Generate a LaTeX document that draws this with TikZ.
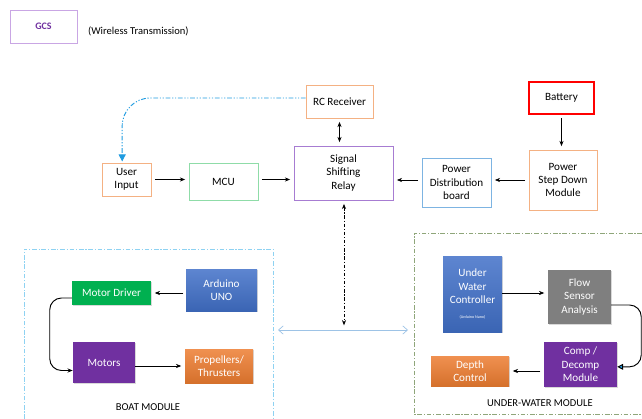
\documentclass[tikz,border=0pt]{standalone}
\usepackage{fontspec}
\setmainfont{Carlito}
\usetikzlibrary{calc, arrows.meta, shadows}
\usetikzlibrary{positioning}

\definecolor{gcsline}{HTML}{C9A6E4}
\definecolor{gcstext}{HTML}{7030A0}
\definecolor{softorange}{HTML}{F4B183}
\definecolor{softgreen}{HTML}{8FDCA8}
\definecolor{softpurple}{HTML}{A77CD2}
\definecolor{softblue}{HTML}{7DB4E2}
\definecolor{linkblue}{HTML}{1F9BE0}
\definecolor{arrowblue}{HTML}{9DC3E6}
\definecolor{boatframe}{HTML}{8ED2F2}
\definecolor{waterframe}{HTML}{8FA67A}
\definecolor{fillgreen}{HTML}{00B050}
\definecolor{fillblue}{HTML}{4170C8}
\definecolor{fillpurple}{HTML}{7030A0}
\definecolor{fillorange}{HTML}{ED7D31}
\definecolor{fillgray}{HTML}{7F7F7F}

\begin{document}
\begin{tikzpicture}[x=0.03cm, y=-0.03cm,
        >={Stealth[length=4.5pt, width=3.5pt]},
        outline/.style={rectangle, draw, line width=0.6pt, align=center, inner sep=1pt, font=\fontsize{9.5}{11.4}\selectfont},
        solid/.style={rectangle, align=center, inner sep=1pt, text=white, font=\fontsize{9.5}{11.4}\selectfont,
            drop shadow={opacity=0.3, shadow xshift=1pt, shadow yshift=-1pt}},
        link/.style={->, line width=0.5pt, shorten >=3pt, shorten <=3pt},
        frame/.style={line width=0.6pt, dash pattern=on 4pt off 1.5pt on 1pt off 1.5pt}
    ]

        \useasboundingbox (0,0) rectangle (642,419);

        % ground station
        \node[outline, draw=gcsline, text=gcstext, minimum width=2.01cm, minimum height=0.99cm, font=\fontsize{8.5}{10}\selectfont\bfseries] (gcs) at (43.5,26.5) {GCS};
        \node[anchor=west, font=\fontsize{9}{10}\selectfont] (wireless) at (84,31) {(Wireless Transmission)};

        % top row
        \node[outline, draw=softorange, minimum width=2.01cm, minimum height=0.99cm] (rc) at (339.5,101.5) {RC Receiver};
        \node[outline, draw=softpurple, minimum width=2.97cm, minimum height=1.62cm] (relay) at (343.5,173) {Signal\\Shifting\\Relay};
        \node[outline, draw=softorange, minimum width=1.47cm, minimum height=0.99cm] (user) at (126.5,179.5) {User\\Input};
        \node[outline, draw=softgreen, minimum width=2.07cm, minimum height=1.11cm] (mcu) at (223.5,181.5) {MCU};
        \node[outline, draw=red, line width=1.6pt, minimum width=1.95cm, minimum height=0.96cm] (battery) at (561.5,98) {Battery};
        \node[outline, draw=softorange, minimum width=2.04cm, minimum height=1.8cm] (stepdown) at (563,180) {Power\\Step Down\\Module};
        \node[outline, draw=softblue, minimum width=2.07cm, minimum height=1.47cm] (pdb) at (456.5,182.5) {Power\\Distribution\\board};

        % top row links
        \draw[link] (user.east) -- (user.east -| mcu.west);
        \draw[link] (mcu.east |- user.east) -- (user.east -| relay.west);
        \draw[link, <->] (rc.south) -- (rc.south |- relay.north);
        \draw[link] (battery.south) -- (battery.south |- stepdown.north);
        \draw[link] (stepdown.west) -- (stepdown.west -| pdb.east);
        \draw[link] (pdb.west |- stepdown.west) -- (stepdown.west -| relay.east);
        \draw[-{Triangle[length=6pt, width=6pt]}, linkblue, line width=0.8pt, rounded corners=24pt,
            dash pattern=on 4pt off 1.5pt on 1pt off 1.5pt on 1pt off 1.5pt, shorten >=1pt]
            (rc.west |- 0,98) -| ([xshift=-0.13cm]user.north);

        % module frames
        \draw[frame, boatframe] (24,419) -- (24,249) -- (273,249) -- (273,419);
        \draw[frame, waterframe] (642,233) -- (414,233) -- (414,414) -- (642,414);
        \node[font=\fontsize{9}{10}\selectfont] (boatlabel) at (148,407) {BOAT MODULE};
        \node[font=\fontsize{9}{10}\selectfont] (waterlabel) at (540,403) {UNDER-WATER MODULE};

        % link between modules
        \coordinate (boatin) at (278,330);
        \coordinate (waterin) at (408,330);
        \coordinate (hub) at (344,330);
        \draw[{Straight Barb[length=4pt, width=7pt]}-{Straight Barb[length=4pt, width=7pt]}, arrowblue, line width=0.6pt] (boatin) -- (waterin);
        \draw[<->, line width=0.6pt, dash pattern=on 3pt off 1.5pt on 1pt off 1.5pt, shorten <=3pt, shorten >=4pt] (relay.south -| hub) -- (hub);

        % boat module
        \node[solid, fill=fillgreen, minimum width=2.37cm, minimum height=0.72cm] (driver) at (111.5,293) {Motor Driver};
        \node[solid, top color=fillblue!85!white, bottom color=fillblue!90!black, minimum width=2.13cm, minimum height=1.26cm] (uno) at (221.5,290) {Arduino\\UNO};
        \node[solid, fill=fillpurple, minimum width=1.86cm, minimum height=1.23cm] (motors) at (104,362.5) {Motors};
        \node[solid, top color=fillorange!85!white, bottom color=fillorange!90!black, minimum width=2.04cm, minimum height=1.02cm] (props) at (219,366) {Propellers/\\Thrusters};

        \draw[link, shorten <=2pt] (uno.west |- driver.east) -- (driver.east);
        \draw[link, shorten <=0pt] (motors.east |- props.west) -- (props.west);
        \draw[->, line width=0.8pt, rounded corners=10pt, shorten >=0pt] ([yshift=-0.15cm]driver.west) -- ++(-22,0) |- ([yshift=-0.24cm]motors.west);

        % under-water module
        \node[solid, top color=fillblue!85!white, bottom color=fillblue!90!black, minimum width=1.77cm, minimum height=2.28cm] (uwc) at (472.5,294) {Under\\Water\\Controller\\[1pt]{\fontsize{3.5}{4}\selectfont(Arduino Nano)}};
        \node[solid, fill=fillgray, minimum width=1.89cm, minimum height=1.62cm] (flow) at (579.5,297) {Flow\\Sensor\\Analysis};
        \node[solid, fill=fillpurple, minimum width=2.19cm, minimum height=1.35cm] (comp) at (580.5,364.5) {Comp /\\Decomp\\Module};
        \node[solid, top color=fillorange!85!white, bottom color=fillorange!90!black, minimum width=2.34cm, minimum height=0.9cm] (depth) at (470,371) {Depth\\Control};

        \draw[link, shorten <=0pt] (uwc.east |- 0,293) -- (flow.west |- 0,293);
        \draw[link, shorten <=3pt] (comp.west |- depth.east) -- (depth.east);
        \draw[-{Triangle[length=5pt, width=5pt, fill=linkblue]}, line width=0.8pt, rounded corners=10pt]
            ([yshift=-0.24cm]flow.east) -- ++(30,0) |- ([yshift=-0.07cm]comp.east);

    \end{tikzpicture}
\end{document}
